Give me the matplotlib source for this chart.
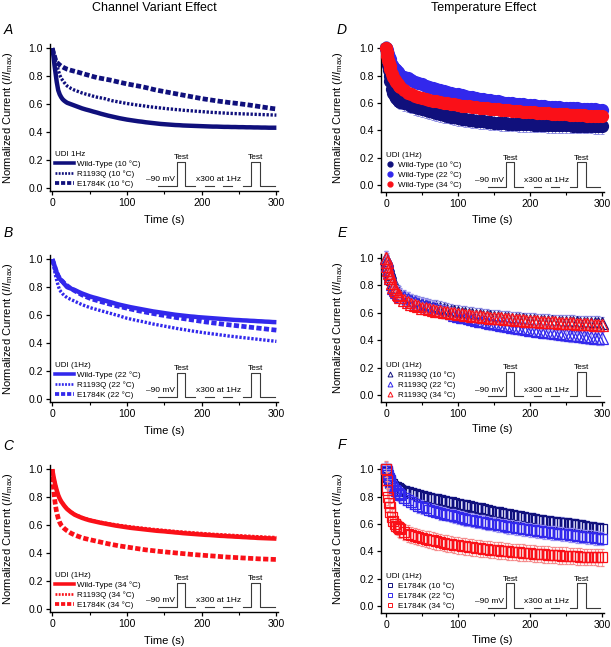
import matplotlib
matplotlib.use('Agg')
import matplotlib.pyplot as plt
import matplotlib.transforms as mtransforms
from matplotlib.lines import Line2D

plt.rcParams['font.family'] = ['Liberation Sans', 'DejaVu Sans']
plt.rcParams['mathtext.fontset'] = 'custom'
plt.rcParams['mathtext.rm'] = 'Liberation Sans'
plt.rcParams['mathtext.it'] = 'Liberation Sans:italic'

# time points (s)
t = [0, 1, 2, 3, 4, 5, 6, 8, 10, 12, 14, 16, 18, 20] + list(range(25, 301, 5))

# normalized current (I/Imax)
wt10 = [1.0, 0.97, 0.93, 0.88, 0.84, 0.80, 0.76, 0.70, 0.67, 0.65, 0.635, 0.625, 0.617, 0.61,
        0.60, 0.59, 0.58, 0.57, 0.562, 0.555, 0.547, 0.54, 0.532, 0.525, 0.518, 0.512, 0.506, 0.50,
        0.495, 0.49, 0.486, 0.482, 0.478, 0.475, 0.471, 0.468, 0.465, 0.462, 0.459, 0.457, 0.455,
        0.453, 0.451, 0.45, 0.448, 0.447, 0.446, 0.445, 0.444, 0.443, 0.442, 0.441, 0.44, 0.44,
        0.439, 0.438, 0.438, 0.437, 0.437, 0.436, 0.436, 0.435, 0.435, 0.434, 0.434, 0.433, 0.433,
        0.432, 0.432, 0.432]
wt22 = [1.0, 0.985, 0.97, 0.955, 0.935, 0.92, 0.905, 0.88, 0.86, 0.848, 0.838, 0.825, 0.812, 0.80,
        0.79, 0.78, 0.767, 0.755, 0.745, 0.735, 0.727, 0.72, 0.712, 0.705, 0.697, 0.69, 0.682, 0.675,
        0.669, 0.663, 0.657, 0.652, 0.647, 0.642, 0.637, 0.632, 0.627, 0.623, 0.619, 0.615, 0.611,
        0.607, 0.603, 0.60, 0.597, 0.594, 0.591, 0.589, 0.586, 0.584, 0.582, 0.58, 0.578, 0.576,
        0.574, 0.572, 0.57, 0.568, 0.566, 0.565, 0.563, 0.562, 0.56, 0.559, 0.557, 0.556, 0.554,
        0.553, 0.551, 0.55]
wt34 = [1.0, 0.97, 0.94, 0.915, 0.89, 0.87, 0.85, 0.815, 0.79, 0.77, 0.755, 0.74, 0.727, 0.715,
        0.693, 0.675, 0.663, 0.652, 0.643, 0.635, 0.629, 0.623, 0.617, 0.612, 0.607, 0.602, 0.597,
        0.593, 0.589, 0.585, 0.581, 0.578, 0.575, 0.572, 0.569, 0.566, 0.563, 0.56, 0.558, 0.556,
        0.553, 0.551, 0.548, 0.546, 0.543, 0.541, 0.539, 0.537, 0.535, 0.533, 0.531, 0.53, 0.528,
        0.526, 0.524, 0.523, 0.521, 0.52, 0.518, 0.517, 0.515, 0.514, 0.512, 0.511, 0.509, 0.508,
        0.507, 0.506, 0.505, 0.504]
r10 = [1.0, 0.985, 0.97, 0.945, 0.92, 0.90, 0.88, 0.845, 0.81, 0.785, 0.77, 0.755, 0.742, 0.73,
       0.713, 0.70, 0.69, 0.68, 0.672, 0.665, 0.657, 0.65, 0.645, 0.64, 0.632, 0.625, 0.62, 0.615,
       0.61, 0.605, 0.601, 0.597, 0.593, 0.59, 0.586, 0.582, 0.579, 0.576, 0.573, 0.57, 0.567,
       0.565, 0.562, 0.56, 0.557, 0.555, 0.553, 0.551, 0.549, 0.547, 0.545, 0.543, 0.541, 0.54,
       0.538, 0.537, 0.535, 0.534, 0.533, 0.532, 0.531, 0.53, 0.529, 0.528, 0.527, 0.526, 0.525,
       0.524, 0.523, 0.522]
r22 = [1.0, 0.975, 0.95, 0.92, 0.895, 0.87, 0.85, 0.81, 0.78, 0.765, 0.752, 0.742, 0.733, 0.725,
       0.712, 0.70, 0.687, 0.675, 0.665, 0.655, 0.647, 0.64, 0.632, 0.625, 0.617, 0.61, 0.602, 0.595,
       0.586, 0.578, 0.572, 0.566, 0.56, 0.555, 0.549, 0.543, 0.537, 0.532, 0.527, 0.522, 0.517,
       0.512, 0.507, 0.502, 0.498, 0.494, 0.489, 0.485, 0.481, 0.477, 0.473, 0.47, 0.466, 0.463,
       0.459, 0.456, 0.452, 0.449, 0.446, 0.443, 0.44, 0.437, 0.434, 0.431, 0.428, 0.425, 0.422,
       0.419, 0.416, 0.413]
r34 = [1.0, 0.97, 0.94, 0.915, 0.89, 0.87, 0.85, 0.815, 0.79, 0.77, 0.755, 0.74, 0.727, 0.715,
       0.695, 0.678, 0.666, 0.655, 0.646, 0.638, 0.632, 0.626, 0.621, 0.616, 0.611, 0.607, 0.603,
       0.599, 0.595, 0.592, 0.588, 0.585, 0.582, 0.579, 0.576, 0.573, 0.57, 0.568, 0.565, 0.563,
       0.56, 0.558, 0.555, 0.553, 0.551, 0.549, 0.547, 0.545, 0.543, 0.541, 0.539, 0.537, 0.535,
       0.534, 0.532, 0.531, 0.529, 0.528, 0.526, 0.525, 0.524, 0.522, 0.521, 0.519, 0.518, 0.517,
       0.515, 0.514, 0.513, 0.512]
e10 = [1.0, 0.98, 0.96, 0.945, 0.925, 0.91, 0.90, 0.89, 0.88, 0.872, 0.866, 0.86, 0.855, 0.85,
       0.842, 0.835, 0.828, 0.82, 0.812, 0.805, 0.797, 0.79, 0.785, 0.78, 0.775, 0.77, 0.763, 0.757,
       0.751, 0.745, 0.74, 0.735, 0.73, 0.725, 0.719, 0.713, 0.706, 0.70, 0.695, 0.69, 0.685,
       0.68, 0.675, 0.67, 0.665, 0.66, 0.655, 0.65, 0.645, 0.64, 0.636, 0.632, 0.628, 0.624,
       0.62, 0.617, 0.613, 0.61, 0.607, 0.604, 0.60, 0.597, 0.593, 0.589, 0.585, 0.581, 0.577,
       0.573, 0.569, 0.566]
e22 = [1.0, 0.985, 0.97, 0.955, 0.935, 0.92, 0.905, 0.88, 0.86, 0.85, 0.84, 0.828, 0.818, 0.81,
       0.79, 0.775, 0.76, 0.745, 0.733, 0.722, 0.713, 0.705, 0.697, 0.69, 0.682, 0.675, 0.668, 0.662,
       0.656, 0.65, 0.644, 0.638, 0.632, 0.627, 0.622, 0.617, 0.612, 0.607, 0.602, 0.598, 0.593,
       0.589, 0.584, 0.58, 0.576, 0.572, 0.568, 0.564, 0.56, 0.556, 0.552, 0.549, 0.545, 0.542,
       0.538, 0.535, 0.532, 0.529, 0.526, 0.523, 0.52, 0.517, 0.514, 0.511, 0.508, 0.505, 0.502,
       0.499, 0.496, 0.493]
e34 = [1.0, 0.92, 0.85, 0.80, 0.755, 0.72, 0.69, 0.65, 0.62, 0.60, 0.588, 0.577, 0.568, 0.56,
       0.543, 0.53, 0.52, 0.51, 0.503, 0.497, 0.491, 0.485, 0.479, 0.473, 0.467, 0.462, 0.457, 0.452,
       0.448, 0.444, 0.44, 0.436, 0.432, 0.428, 0.424, 0.421, 0.418, 0.415, 0.412, 0.41, 0.407,
       0.405, 0.402, 0.40, 0.397, 0.395, 0.392, 0.39, 0.388, 0.386, 0.384, 0.382, 0.38, 0.378,
       0.376, 0.374, 0.372, 0.371, 0.369, 0.368, 0.366, 0.365, 0.363, 0.362, 0.36, 0.359, 0.358,
       0.357, 0.356, 0.355]

# SEM per series (10, 22, 34 C)
sem_wt = [0.055, 0.025, 0.02]
sem_r = [0.05, 0.05, 0.035]
sem_e = [0.04, 0.05, 0.06]

temps = ['10', '22', '34']
variants = ['Wild-Type', 'R1193Q', 'E1784K']
data = {'Wild-Type': [wt10, wt22, wt34], 'R1193Q': [r10, r22, r34], 'E1784K': [e10, e22, e34]}
sems = {'Wild-Type': sem_wt, 'R1193Q': sem_r, 'E1784K': sem_e}

cols = ['#10107c', '#3228ec', '#fa1018']
ecols = ['#8686e0', '#9a92f2', '#f58c8c']

line_styles = {'Wild-Type': dict(ls='-', lw=3.2),
               'R1193Q': dict(ls=(0, (0.7, 0.5)), lw=2.4),
               'E1784K': dict(ls=(0, (1.1, 0.5)), lw=3.4)}
mk_styles = {'Wild-Type': 'o', 'R1193Q': '^', 'E1784K': 's'}

fig = plt.figure(figsize=(6.11, 6.47), dpi=100)

left_bot = [0.7048, 0.3787, 0.0541]
right_bot = [0.7032, 0.379, 0.0526]
letters_l = ['A', 'B', 'C']
letters_r = ['D', 'E', 'F']
letter_y_l = [30, 233, 446]
letter_y_r = [30, 233, 445]


def style_axes(ax, xlab_y):
    ax.spines['top'].set_visible(False)
    ax.spines['right'].set_visible(False)
    for s in ['left', 'bottom']:
        ax.spines[s].set_linewidth(1.0)
    ax.set_xticks([0, 100, 200, 300])
    ax.set_xticks([50, 150, 250], minor=True)
    ax.set_yticks([0, 0.2, 0.4, 0.6, 0.8, 1.0])
    ax.set_yticklabels(['0.0', '0.2', '0.4', '0.6', '0.8', '1.0'])
    ax.tick_params(which='major', direction='out', length=3, width=0.9, labelsize=7.5, pad=2)
    ax.tick_params(which='minor', direction='out', length=2, width=0.8)
    ax.set_xlabel('Time (s)', fontsize=8)
    ax.set_ylabel('Normalized Current ($\\mathit{I/I}_{\\mathrm{max}}$)', fontsize=8)
    ax.xaxis.set_label_coords(0.5, xlab_y)


def protocol(ax):
    tr = mtransforms.blended_transform_factory(ax.transData, ax.transAxes)
    b, h = 0.036, 0.20
    kw = dict(color='#3a3a3a', lw=0.8, transform=tr, clip_on=False, zorder=6)
    ax.plot([142, 167, 167, 178, 178, 191], [b, b, h, h, b, b], **kw)
    ax.plot([205, 216], [b, b], **kw)
    ax.plot([229, 241], [b, b], **kw)
    ax.plot([255, 266, 266, 278, 278, 298], [b, b, h, h, b, b], **kw)
    ax.text(172.5, h + 0.005, 'Test', fontsize=6, ha='center', va='bottom', transform=tr)
    ax.text(272, h + 0.005, 'Test', fontsize=6, ha='center', va='bottom', transform=tr)
    ax.text(164, b + 0.02, '\u201390 mV', fontsize=6, ha='right', va='bottom', transform=tr)
    ax.text(223, b + 0.02, 'x300 at 1Hz', fontsize=6, ha='center', va='bottom', transform=tr)


# left column: channel variant effect
for i, temp in enumerate(temps):
    ax = fig.add_axes([0.0818, left_bot[i], 0.373, 0.2272])
    handles = []
    for v in variants:
        st = line_styles[v]
        ax.plot(t, data[v][i], color=cols[i], ls=st['ls'], lw=st['lw'],
                solid_capstyle='butt', dash_capstyle='butt')
        handles.append(Line2D([], [], color=cols[i], ls=st['ls'], lw=st['lw'] * 0.8,
                              dash_capstyle='butt', label=f'{v} ({temp} \u00b0C)'))
    ax.set_xlim(-3, 302)
    ax.set_ylim(-0.02, 1.03)
    style_axes(ax, -0.165)
    ax.yaxis.set_label_coords(-0.155, 0.5)
    protocol(ax)
    ax.legend(handles=handles, loc='lower left', bbox_to_anchor=(0.022, 0.02),
              frameon=False, fontsize=5.8, title='UDI 1Hz' if i == 0 else 'UDI (1Hz)',
              title_fontsize=5.8, alignment='left', borderpad=0, borderaxespad=0,
              labelspacing=0.3, handlelength=2.3, handletextpad=0.4)
    fig.text(8 / 611, 1 - letter_y_l[i] / 647, letters_l[i], fontsize=10, style='italic',
             ha='center', va='center')

# right column: temperature effect
for i, v in enumerate(variants):
    ax = fig.add_axes([0.6236, right_bot[i], 0.365, 0.2287])
    mk = mk_styles[v]
    handles = []
    for j, temp in enumerate(temps):
        y = data[v][j]
        if mk == 'o':
            ax.errorbar(t, y, yerr=sems[v][j], fmt='o', ms=8.5, mfc=cols[j], mec=cols[j],
                        ecolor=ecols[j], elinewidth=0.6, capsize=1.3, capthick=0.6,
                        clip_on=False, zorder=2 + j)
            handles.append(Line2D([], [], marker='o', ls='none', ms=3.5, mfc=cols[j],
                                  mec=cols[j], label=f'{v} ({temp} \u00b0C)'))
        else:
            ax.errorbar(t, y, yerr=sems[v][j], fmt=mk, ms=8 if mk == '^' else 7, mfc='none',
                        mec=cols[j], mew=0.9, ecolor=ecols[j], elinewidth=0.6, capsize=1.3,
                        capthick=0.6, clip_on=False, zorder=2 + j)
            handles.append(Line2D([], [], marker=mk, ls='none', ms=3.5, mfc='none',
                                  mec=cols[j], mew=0.7, label=f'{v} ({temp} \u00b0C)'))
    ax.set_xlim(-7, 303)
    ax.set_ylim(-0.05, 1.03)
    style_axes(ax, -0.152)
    ax.yaxis.set_label_coords(-0.16, 0.5)
    protocol(ax)
    ax.legend(handles=handles, loc='lower left', bbox_to_anchor=(0.022, 0.02),
              frameon=False, fontsize=5.8, title='UDI (1Hz)', title_fontsize=5.8,
              alignment='left', borderpad=0, borderaxespad=0, labelspacing=0.3,
              handlelength=1.0, handletextpad=0.5)
    fig.text(342 / 611, 1 - letter_y_r[i] / 647, letters_r[i], fontsize=10, style='italic',
             ha='center', va='center')

fig.text(154 / 611, 1 - 8 / 647, 'Channel Variant Effect', fontsize=9, ha='center', va='center')
fig.text(484 / 611, 1 - 8 / 647, 'Temperature Effect', fontsize=9, ha='center', va='center')

plt.savefig('out.png', dpi=100)
